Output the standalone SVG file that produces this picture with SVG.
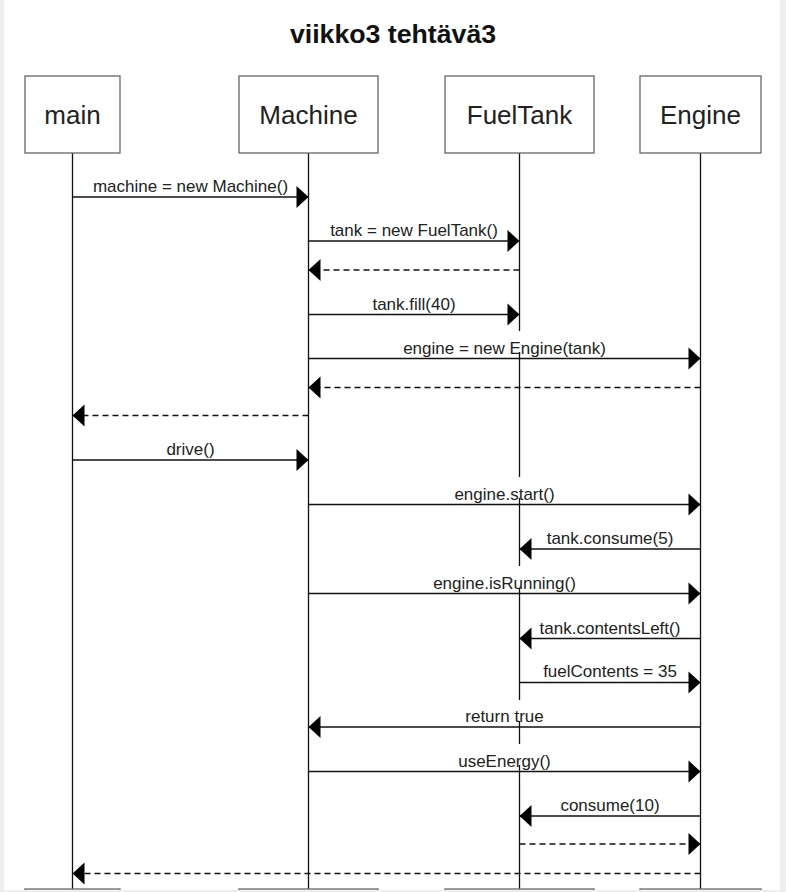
<svg xmlns="http://www.w3.org/2000/svg" width="786" height="892" viewBox="0 0 786 892">
  <style>
    .page { fill: #ffffff; }
    .frame { fill: #eeeeee; }
    .title { font-family: "Liberation Sans", Arial, sans-serif; font-size: 26.7px; font-weight: bold; fill: #111; text-anchor: middle; }
    .box { fill: #ffffff; stroke: #666666; stroke-width: 1.3; }
    .name { font-family: "Liberation Sans", Arial, sans-serif; font-size: 26px; fill: #222; text-anchor: middle; }
    .life { stroke: #111; stroke-width: 1.3; fill: none; }
    .msg { stroke: #111; stroke-width: 1.3; fill: none; marker-end: url(#head); }
    .ret { stroke: #111; stroke-width: 1.3; fill: none; stroke-dasharray: 6 4; marker-end: url(#head); }
    .lbl { font-family: "Liberation Sans", Arial, sans-serif; font-size: 17px; fill: #222; text-anchor: middle; }
  </style>
  <defs>
    <marker id="head" markerUnits="userSpaceOnUse" markerWidth="12" markerHeight="22" refX="12" refY="11" orient="auto" overflow="visible">
      <path d="M0,0 L12,11 L0,22 Z" fill="#000"/>
    </marker>
  </defs>

  <!-- page -->
  <rect class="frame" x="0" y="0" width="786" height="892"/>
  <rect class="page" x="4" y="0" width="776" height="890"/>

  <text class="title" x="393" y="43">viikko3 tehtävä3</text>

  <!-- lifelines -->
  <g id="lifelines">
    <line class="life" x1="72.5" y1="153" x2="72.5" y2="890"/>
    <line class="life" x1="308.5" y1="153" x2="308.5" y2="890"/>
    <path class="life" d="M519.5,153 V331 M519.5,352 V477 M519.5,498 V566 M519.5,588 V700 M519.5,721 V744 M519.5,765 V890"/>
    <line class="life" x1="700.5" y1="153" x2="700.5" y2="890"/>
  </g>

  <!-- participants -->
  <g id="main">
    <rect class="box" x="25" y="76" width="95" height="77"/>
    <text class="name" x="72.5" y="124">main</text>
    <rect class="box" x="25" y="889" width="95" height="77"/>
  </g>
  <g id="machine">
    <rect class="box" x="239" y="76" width="139" height="77"/>
    <text class="name" x="308.5" y="124">Machine</text>
    <rect class="box" x="239" y="889" width="139" height="77"/>
  </g>
  <g id="fueltank">
    <rect class="box" x="445" y="76" width="149" height="77"/>
    <text class="name" x="519.5" y="124">FuelTank</text>
    <rect class="box" x="445" y="889" width="149" height="77"/>
  </g>
  <g id="engine">
    <rect class="box" x="640" y="76" width="121" height="77"/>
    <text class="name" x="700.5" y="124">Engine</text>
    <rect class="box" x="640" y="889" width="121" height="77"/>
  </g>

  <!-- messages -->
  <g id="connectors">
    <line class="msg" x1="72.5" y1="197" x2="308.5" y2="197"/>
    <text class="lbl" x="190.5" y="192">machine = new Machine()</text>

    <line class="msg" x1="308.5" y1="241" x2="519.5" y2="241"/>
    <text class="lbl" x="414" y="236">tank = new FuelTank()</text>

    <line class="ret" x1="519.5" y1="270" x2="308.5" y2="270"/>

    <line class="msg" x1="308.5" y1="314.5" x2="519.5" y2="314.5"/>
    <text class="lbl" x="414" y="309.5">tank.fill(40)</text>

    <line class="msg" x1="308.5" y1="358.5" x2="700.5" y2="358.5"/>
    <text class="lbl" x="504.5" y="353.5">engine = new Engine(tank)</text>

    <line class="ret" x1="700.5" y1="387.5" x2="308.5" y2="387.5"/>

    <line class="ret" x1="308.5" y1="415.5" x2="72.5" y2="415.5"/>

    <line class="msg" x1="72.5" y1="460" x2="308.5" y2="460"/>
    <text class="lbl" x="190.5" y="455">drive()</text>

    <line class="msg" x1="308.5" y1="504.5" x2="700.5" y2="504.5"/>
    <text class="lbl" x="504.5" y="499.5">engine.start()</text>

    <line class="msg" x1="700.5" y1="549" x2="519.5" y2="549"/>
    <text class="lbl" x="610" y="544">tank.consume(5)</text>

    <line class="msg" x1="308.5" y1="593.5" x2="700.5" y2="593.5"/>
    <text class="lbl" x="504.5" y="588.5">engine.isRunning()</text>

    <line class="msg" x1="700.5" y1="638.5" x2="519.5" y2="638.5"/>
    <text class="lbl" x="610" y="633.5">tank.contentsLeft()</text>

    <line class="msg" x1="519.5" y1="682.5" x2="700.5" y2="682.5"/>
    <text class="lbl" x="610" y="677">fuelContents = 35</text>

    <line class="msg" x1="700.5" y1="727" x2="308.5" y2="727"/>
    <text class="lbl" x="504.5" y="722">return true</text>

    <line class="msg" x1="308.5" y1="771.5" x2="700.5" y2="771.5"/>
    <text class="lbl" x="504.5" y="766.5">useEnergy()</text>

    <line class="msg" x1="700.5" y1="816" x2="519.5" y2="816"/>
    <text class="lbl" x="610" y="811">consume(10)</text>

    <line class="ret" x1="519.5" y1="844" x2="700.5" y2="844"/>

    <line class="ret" x1="700.5" y1="873.5" x2="72.5" y2="873.5"/>
  </g>

  <!-- bottom edge of page -->
  <rect class="frame" x="0" y="890" width="786" height="2"/>
</svg>
